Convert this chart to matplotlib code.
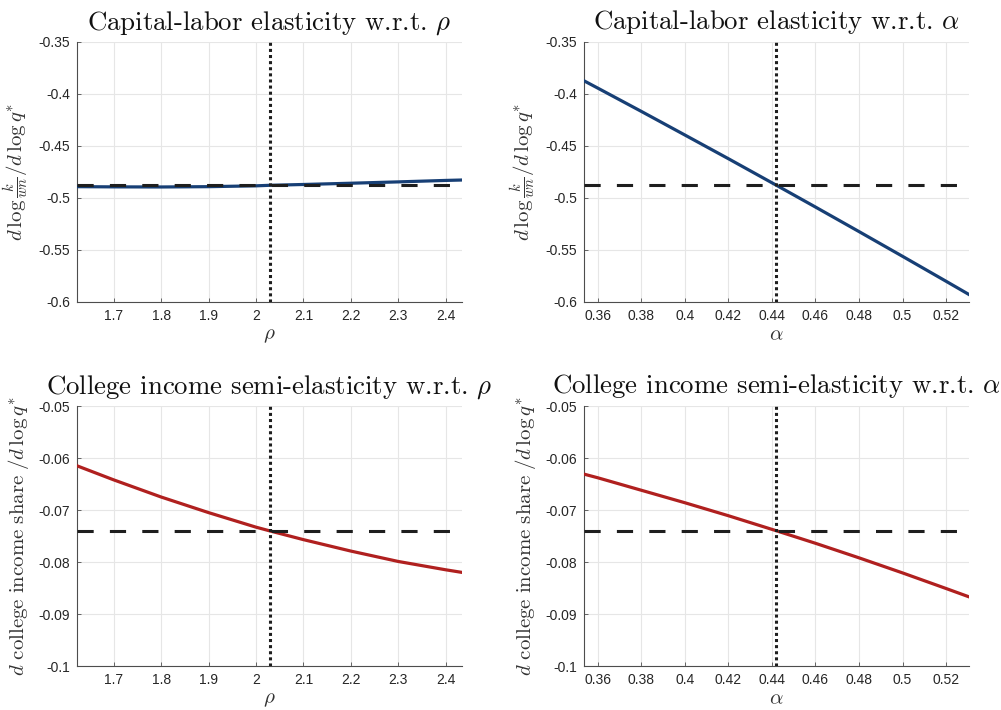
import matplotlib
matplotlib.use("Agg")
import matplotlib.pyplot as plt
import numpy as np

plt.rcParams["mathtext.fontset"] = "cm"
plt.rcParams["font.family"] = ["Liberation Sans", "DejaVu Sans"]

# baseline parameter values and the +/-20% sweep grids
RHO_BASE = 2.0285
ALPHA_BASE = 0.4421
rho_grid = [1.6228, 1.70, 1.80, 1.90, 2.00, 2.0285, 2.10, 2.20, 2.30, 2.40, 2.4342]
alpha_grid = [0.3537, 0.36, 0.38, 0.40, 0.42, 0.4421, 0.46, 0.48, 0.50, 0.52, 0.5305]

# capital-labor elasticity d log(k/wn) / d log q*
kl_base = -0.4878
kl_rho = [-0.4891, -0.4893, -0.4894, -0.4891, -0.4883, -0.4878,
          -0.4870, -0.4858, -0.4845, -0.4831, -0.4827]
kl_alpha = [-0.3873, -0.3943, -0.4167, -0.4394, -0.4622, -0.4878,
            -0.5087, -0.5323, -0.5561, -0.5801, -0.5928]

# college income share semi-elasticity
cs_base = -0.0740
cs_rho = [-0.0615, -0.0642, -0.0675, -0.0705, -0.0733, -0.0740,
          -0.0757, -0.0779, -0.0799, -0.0815, -0.0820]
cs_alpha = [-0.0631, -0.0638, -0.0662, -0.0686, -0.0711, -0.0740,
            -0.0764, -0.0792, -0.0821, -0.0851, -0.0867]

BLUE = "#173f75"
RED = "#b0201f"
GRAY = "#262626"

KL_LABEL = r"$d\,\log\frac{k}{wn}/d\,\log q^{*}$"
CS_LABEL = r"$d\ \mathrm{college\ income\ share}\ /d\,\log q^{*}$"

panels = [
    (rho_grid, kl_rho, RHO_BASE, kl_base, BLUE, r"Capital-labor elasticity w.r.t. $\rho$",
     KL_LABEL, r"$\rho$", (-0.6, -0.35), 0.05, np.arange(1.7, 2.45, 0.1)),
    (alpha_grid, kl_alpha, ALPHA_BASE, kl_base, BLUE, r"Capital-labor elasticity w.r.t. $\alpha$",
     KL_LABEL, r"$\alpha$", (-0.6, -0.35), 0.05, np.arange(0.36, 0.525, 0.02)),
    (rho_grid, cs_rho, RHO_BASE, cs_base, RED, r"College income semi-elasticity w.r.t. $\rho$",
     CS_LABEL, r"$\rho$", (-0.1, -0.05), 0.01, np.arange(1.7, 2.45, 0.1)),
    (alpha_grid, cs_alpha, ALPHA_BASE, cs_base, RED, r"College income semi-elasticity w.r.t. $\alpha$",
     CS_LABEL, r"$\alpha$", (-0.1, -0.05), 0.01, np.arange(0.36, 0.525, 0.02)),
]

W, H = 1001, 710
fig = plt.figure(figsize=(W / 100, H / 100), dpi=100)
boxes = [(77, 42), (584, 42), (77, 406), (584, 406)]
aw, ah = 385, 260

for (x0, y0), (xs, ys, xb, yb, col, title, ylab, xlab, ylim, ystep, xt) in zip(boxes, panels):
    ax = fig.add_axes([x0 / W, 1 - (y0 + ah) / H, aw / W, ah / H])
    ax.plot(xs, ys, color=col, lw=2.3, zorder=3)
    ax.axhline(yb, color="#1e1e1e", lw=2.2, ls=(0, (5.3, 5.3)), dash_capstyle="butt", zorder=4)
    ax.axvline(xb, color="#1e1e1e", lw=2.2, ls=(0, (1, 1)), dash_capstyle="butt", zorder=5)
    ax.set_xlim(xs[0], xs[-1])
    ax.set_ylim(*ylim)
    yt = np.arange(ylim[0], ylim[1] + ystep / 2, ystep)
    ax.set_yticks(yt)
    ax.set_yticklabels(["%g" % round(v, 3) for v in yt])
    ax.set_xticks(xt)
    ax.set_xticklabels(["%g" % round(v, 3) for v in xt])
    ax.grid(True, color="#e6e6e6", lw=0.8, zorder=0)
    for s in ("top", "right"):
        ax.spines[s].set_visible(False)
    for s in ("left", "bottom"):
        ax.spines[s].set_color("#4d4d4d")
        ax.spines[s].set_linewidth(0.8)
    ax.tick_params(direction="in", length=3, width=0.6, color="#4d4d4d",
                   labelsize=10, labelcolor=GRAY, pad=5)
    ax.set_title(title, fontsize=19.3, family="cmr10", color="#111111", pad=9)
    ax.set_ylabel(ylab, fontsize=15, color="#333333", labelpad=5)
    ax.set_xlabel(xlab, fontsize=15, color="#333333", labelpad=2)

fig.savefig("out.png", dpi=100)
